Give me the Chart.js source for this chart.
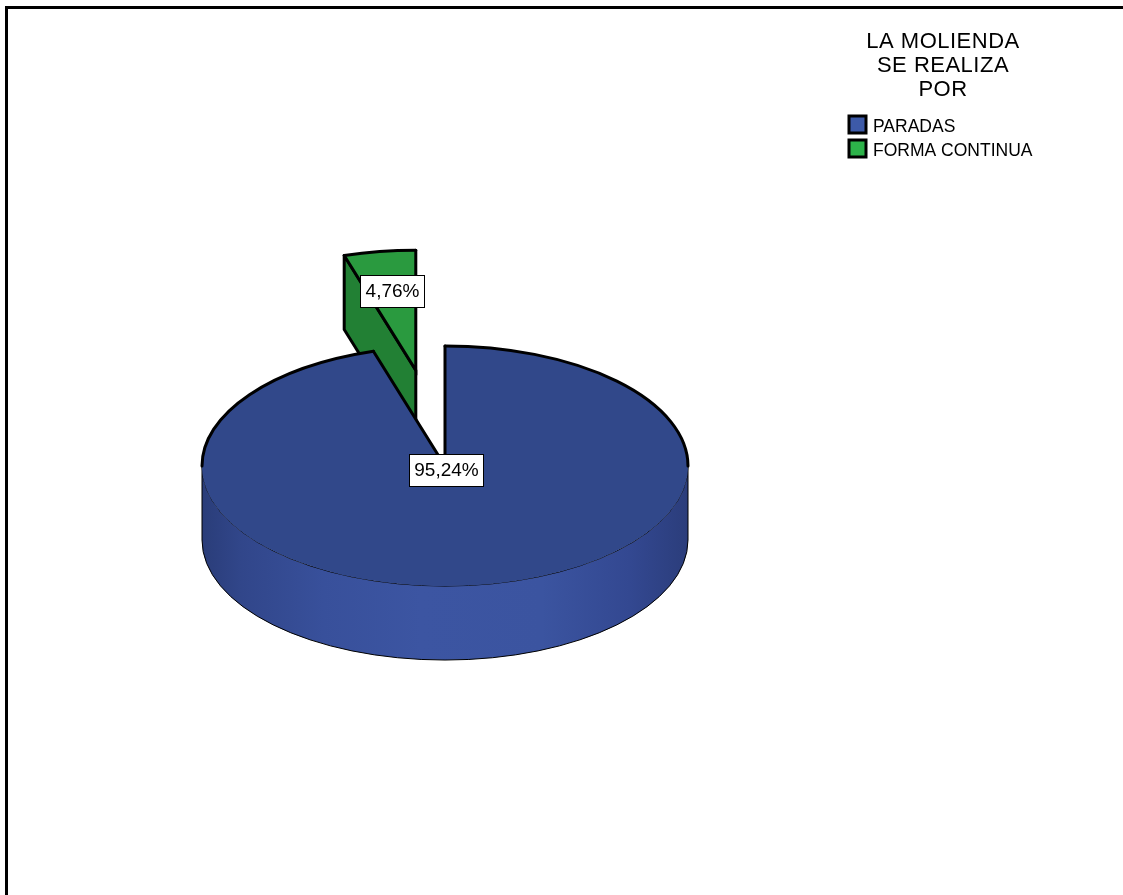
<!DOCTYPE html>
<html>
<head>
<meta charset="utf-8">
<script src="https://cdn.jsdelivr.net/npm/chart.js@4.4.0/dist/chart.umd.min.js"></script>
<style>
  html, body { margin: 0; padding: 0; background: #fff; }
</style>
</head>
<body>
<canvas id="pie" width="1123" height="895"></canvas>
<script>
// data
var categories = ['PARADAS', 'FORMA CONTINUA'];
var percentages = [95.24, 4.76];
var legendTitle = ['LA MOLIENDA', 'SE REALIZA', 'POR'];

// colours per slice: top face, cut face, outer wall gradient, legend swatch
var sliceStyles = [
    { top: '#31488a', cut: '#2a3f7e', swatch: '#3d5aa8',
      wall: [[0, '#2a3d79'], [0.08, '#31468a'], [0.25, '#38509b'], [0.45, '#3c55a2'], [0.7, '#3b54a0'], [0.88, '#334891'], [1, '#2b3d7b']] },
    { top: '#2a9a3f', cut: '#228034', swatch: '#2db34a',
      wall: [[0, '#1f7530'], [0.5, '#2a9a3f'], [1, '#1f7530']] }
];

var TILT = 0.494;  // vertical squash of the pie
var DEPTH = 74;    // thickness of the pie in px
var TAU = Math.PI * 2;

function fmtPct(v) {
    return v.toFixed(2).replace('.', ',') + '%';
}

function clipRange(s, e, lo, hi) {
    var a = Math.max(s, lo), b = Math.min(e, hi);
    return b - a > 1e-6 ? [a, b] : null;
}

// slice position after pulling it out along its middle angle
function sliceGeom(chart, arc, i) {
    var pull = chart.options.plugins.pie3d.explode[i] || 0;
    var half = (arc.startAngle + arc.endAngle) / 2;
    return {
        arc: arc, index: i,
        cx: arc.x + Math.cos(half) * pull,
        cy: arc.y + Math.sin(half) * pull * TILT,
        r: arc.outerRadius,
        s: arc.startAngle,
        e: arc.endAngle,
        style: sliceStyles[i]
    };
}

function edgePt(g, a, dy) {
    return [g.cx + g.r * Math.cos(a), g.cy + g.r * TILT * Math.sin(a) + (dy || 0)];
}

function drawSlice(chart, g) {
    var ctx = chart.ctx;
    var st = g.style;

    // cut faces along the two radii, when they face the viewer
    var cuts = [];
    if (Math.cos(g.s) < -1e-6) cuts.push(g.s);
    if (Math.cos(g.e) > 1e-6) cuts.push(g.e);
    cuts.forEach(function (a) {
        var p = edgePt(g, a);
        ctx.beginPath();
        ctx.moveTo(g.cx, g.cy);
        ctx.lineTo(p[0], p[1]);
        ctx.lineTo(p[0], p[1] + DEPTH);
        ctx.lineTo(g.cx, g.cy + DEPTH);
        ctx.closePath();
        ctx.fillStyle = st.cut;
        ctx.fill();
        ctx.lineWidth = 3;
        ctx.lineJoin = 'round';
        ctx.strokeStyle = '#000';
        ctx.stroke();
    });

    // outer wall on the front half
    [-1, 0, 1].forEach(function (n) {
        var rg = clipRange(g.s, g.e, n * TAU, n * TAU + Math.PI);
        if (!rg) return;
        var grad = ctx.createLinearGradient(g.cx - g.r, 0, g.cx + g.r, 0);
        st.wall.forEach(function (c) { grad.addColorStop(c[0], c[1]); });
        var p = edgePt(g, rg[1]);
        ctx.beginPath();
        ctx.ellipse(g.cx, g.cy, g.r, g.r * TILT, 0, rg[0], rg[1], false);
        ctx.lineTo(p[0], p[1] + DEPTH);
        ctx.ellipse(g.cx, g.cy + DEPTH, g.r, g.r * TILT, 0, rg[1], rg[0], true);
        ctx.closePath();
        ctx.fillStyle = grad;
        ctx.fill();
        ctx.lineWidth = 1;
        ctx.strokeStyle = '#000';
        ctx.stroke();
    });

    // top face: the arc element itself, moved out and squashed
    ctx.save();
    ctx.translate(g.cx, g.cy);
    ctx.scale(1, TILT);
    ctx.translate(-g.arc.x, -g.arc.y);
    g.arc.draw(ctx);
    ctx.restore();

    // heavy outline on the radii and the back rim
    ctx.strokeStyle = '#000';
    ctx.lineWidth = 3;
    ctx.lineJoin = 'miter';
    ctx.lineCap = 'round';
    var ps = edgePt(g, g.s), pe = edgePt(g, g.e);
    ctx.beginPath();
    ctx.moveTo(ps[0], ps[1]);
    ctx.lineTo(g.cx, g.cy);
    ctx.lineTo(pe[0], pe[1]);
    ctx.stroke();
    [-1, 0, 1, 2].forEach(function (n) {
        var rg = clipRange(g.s, g.e, n * TAU - Math.PI, n * TAU);
        if (!rg) return;
        ctx.beginPath();
        ctx.ellipse(g.cx, g.cy, g.r, g.r * TILT, 0, rg[0], rg[1], false);
        ctx.stroke();
    });
    ctx.lineCap = 'butt';
}

var pie3d = {
    id: 'pie3d',
    beforeDatasetsDraw: function (chart) {
        var meta = chart.getDatasetMeta(0);
        var slices = meta.data.map(function (arc, i) { return sliceGeom(chart, arc, i); });
        // back slices first
        slices.sort(function (a, b) { return a.cy - b.cy; });
        slices.forEach(function (g) { drawSlice(chart, g); });
        return false;
    },
    afterDraw: function (chart) {
        var ctx = chart.ctx;
        var meta = chart.getDatasetMeta(0);
        ctx.save();
        ctx.font = '19px "Liberation Sans", Arial, sans-serif';
        ctx.textAlign = 'center';
        ctx.textBaseline = 'middle';
        meta.data.forEach(function (arc, i) {
            var g = sliceGeom(chart, arc, i);
            var th = arc.endAngle - arc.startAngle;
            var half = (arc.startAngle + arc.endAngle) / 2;
            // centroid of the sector
            var d = 4 * g.r * Math.sin(th / 2) / (3 * th);
            var x = g.cx + Math.cos(half) * d;
            var y = g.cy + Math.sin(half) * d * TILT;
            var txt = fmtPct(percentages[i]);
            var w = Math.round(ctx.measureText(txt).width + 10);
            var h = 32;
            var bx = Math.round(x - w / 2), by = Math.round(y - h / 2);
            ctx.fillStyle = '#fff';
            ctx.fillRect(bx, by, w, h);
            ctx.lineWidth = 1;
            ctx.strokeStyle = '#000';
            ctx.strokeRect(bx + 0.5, by + 0.5, w, h);
            ctx.fillStyle = '#000';
            ctx.fillText(txt, bx + w / 2 + 0.5, by + h / 2 + 1);
        });
        ctx.restore();
    }
};

// legend with stacked title, top right
var sideLegend = {
    id: 'sideLegend',
    afterDraw: function (chart, args, opts) {
        var ctx = chart.ctx;
        ctx.save();
        ctx.fillStyle = '#000';
        ctx.font = '22px "Liberation Sans", Arial, sans-serif';
        ctx.letterSpacing = '0.5px';
        ctx.textAlign = 'center';
        ctx.textBaseline = 'alphabetic';
        legendTitle.forEach(function (line, i) {
            ctx.fillText(line, opts.titleX, opts.titleY + i * opts.titleStep);
        });
        ctx.letterSpacing = '0px';
        ctx.textAlign = 'left';
        ctx.font = '17.5px "Liberation Sans", Arial, sans-serif';
        chart.data.labels.forEach(function (lab, i) {
            var y = opts.itemY + i * opts.itemStep;
            ctx.fillStyle = sliceStyles[i].swatch;
            ctx.fillRect(opts.boxX, y, 17, 17);
            ctx.lineWidth = 3;
            ctx.strokeStyle = '#000';
            ctx.strokeRect(opts.boxX, y, 17, 17);
            ctx.fillStyle = '#000';
            ctx.fillText(lab, opts.boxX + 24, y + 16);
        });
        ctx.restore();
    }
};

// heavy frame along the top and left
var frame = {
    id: 'frame',
    beforeDraw: function (chart) {
        var ctx = chart.ctx;
        ctx.save();
        ctx.fillStyle = '#fff';
        ctx.fillRect(0, 0, chart.width, chart.height);
        ctx.fillStyle = '#000';
        ctx.fillRect(5, 6, chart.width - 5, 3);
        ctx.fillRect(5, 6, 3, chart.height - 6);
        ctx.restore();
    }
};

var ctx = document.getElementById('pie').getContext('2d');
var myChart = new Chart(ctx, {
    type: 'pie',
    data: {
        labels: categories,
        datasets: [{
            data: percentages,
            backgroundColor: sliceStyles.map(function (s) { return s.top; }),
            borderWidth: 0,
            radius: 243,
            clip: false
        }]
    },
    options: {
        responsive: false,
        animation: false,
        events: [],
        layout: { padding: { left: 0, right: 233, top: 37, bottom: 0 } },
        plugins: {
            legend: { display: false },
            tooltip: { enabled: false },
            pie3d: { explode: [0, 196] },
            sideLegend: { titleX: 943, titleY: 48, titleStep: 24, boxX: 849, itemY: 116, itemStep: 24 }
        }
    },
    plugins: [frame, pie3d, sideLegend]
});
</script>
</body>
</html>
